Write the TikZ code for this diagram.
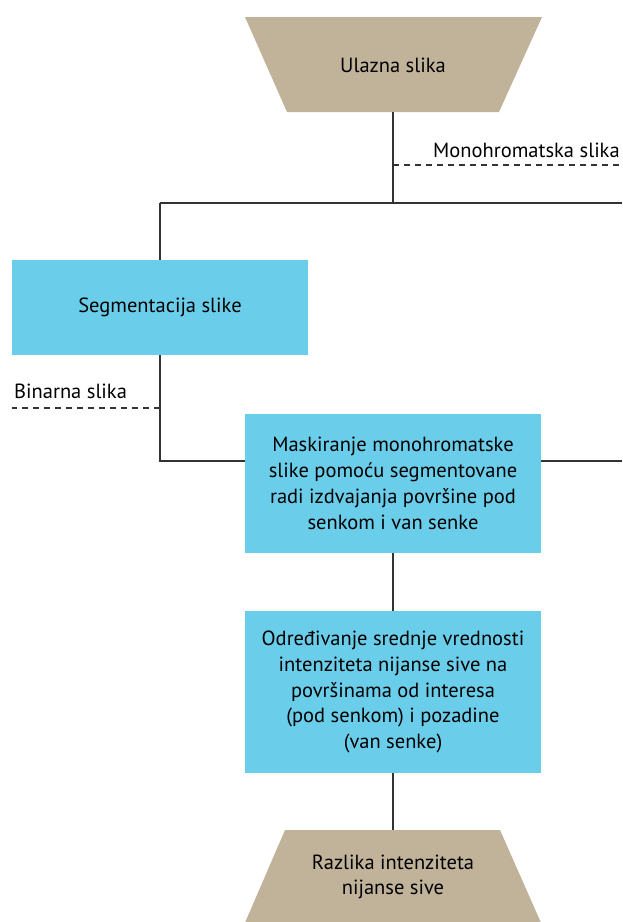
\documentclass[tikz,border=0pt]{standalone}
\usepackage{fontspec}
\setmainfont{PT Sans}
\begin{document}
\begin{tikzpicture}[x=1pt,y=-1pt,
  line/.style={draw=black!80,line width=1.5pt},
  dline/.style={draw=black!80,line width=1.2pt,dash pattern=on 6pt off 5pt},
  tan/.style={fill=tanc,draw=none},
  proc/.style={fill=bluec,draw=none,inner sep=0pt,align=center,font=\fontsize{20.5}{25.8}\selectfont},
  txt/.style={font=\fontsize{20.5}{25.8}\selectfont,inner sep=0pt,align=center},
  lbl/.style={font=\fontsize{20.5}{24}\selectfont,inner sep=0pt,anchor=base west}]
\definecolor{tanc}{HTML}{C1B39A}
\definecolor{bluec}{HTML}{6ACEEB}
\useasboundingbox (0,0) rectangle (622,922);
\clip (0,0) rectangle (622,922);
% top trapezoid
\fill[tan] (245,17) -- (542,17) -- (499,112) -- (287,112) -- cycle;
\node[txt] (in) at (393,65) {Ulazna slika};
\coordinate (inS) at (393,112);
% boxes
\node[proc,minimum width=296pt,minimum height=95pt] (seg) at (160,307.5) {Segmentacija slike};
\node[proc,minimum width=296pt,minimum height=139pt] (mask) at (393,483.5) {Maskiranje monohromatske\\slike pomoću segmentovane\\radi izdvajanja površine pod\\senkom i van senke};
\node[proc,minimum width=296pt,minimum height=162pt] (mean) at (393,692) {Određivanje srednje vrednosti\\intenziteta nijanse sive na\\površinama od interesa\\(pod senkom) i pozadine\\(van senke)};
% bottom trapezoid
\fill[tan] (285,830) -- (500,830) -- (542,925) -- (244,925) -- cycle;
\node[txt] (out) at (393,877) {Razlika intenziteta\\nijanse sive};
\coordinate (outN) at (393,830);
% coordinates
\coordinate (j1) at (393,203);
\coordinate (jl) at (160,203);
\coordinate (jr) at (622,203);
\coordinate (m1) at (393,165);
\coordinate (m2) at (622,165);
\coordinate (b1) at (160,408);
\coordinate (b2) at (12,408);
\coordinate (c1) at (160,461);
\coordinate (mr) at (622,461);
% connectors
\draw[line] (inS) -- (j1);
\draw[line] (jl) -- (jr);
\draw[line] (jl) -- (seg.north);
\draw[line] (seg.south) -- (c1) -- (mask.west |- c1);
\draw[line] (mask.east |- mr) -- (mr);
\draw[line] (mask.south) -- (mean.north);
\draw[line] (mean.south) -- (outN);
\draw[dline] (m1) -- (m2);
\draw[dline] (b1) -- (b2);
\node[lbl] (lm) at (433,157) {Monohromatska slika};
\node[lbl] (lb) at (14,398) {Binarna slika};
\end{tikzpicture}
\end{document}
